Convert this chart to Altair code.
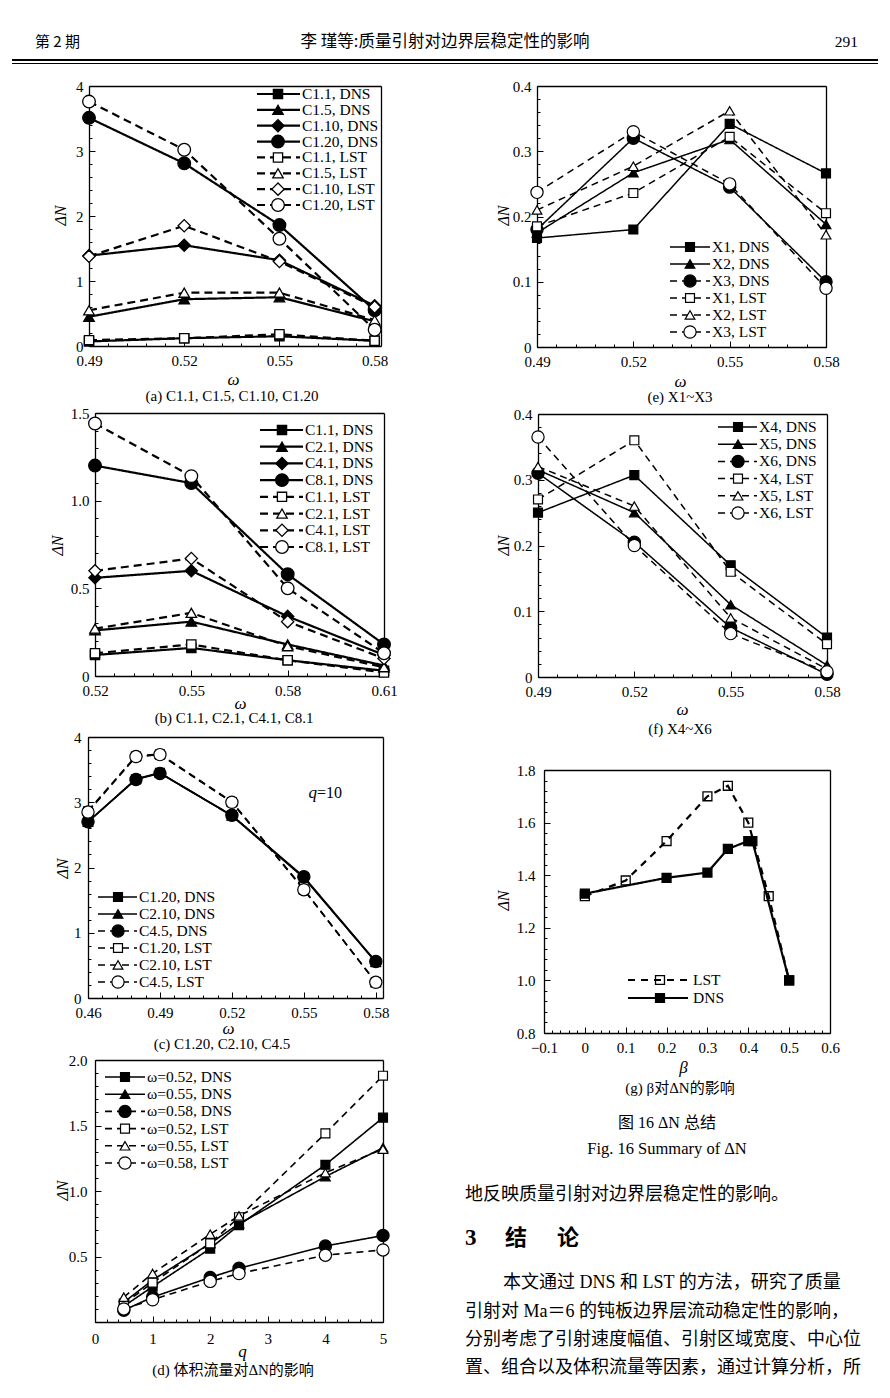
import numpy as np
import pandas as pd
import altair as alt

W, H = 874, 1382
P = 8
SERIF = "Liberation Serif"
CJK = "Noto Sans CJK SC"
MIX = "Liberation Serif, Noto Sans CJK SC"

# ---------------- data ----------------
# (a)
A_OMEGA = [0.49, 0.52, 0.55, 0.58]
A_C1_1_DNS = [0.07, 0.12, 0.15, 0.08]
A_C1_5_DNS = [0.45, 0.72, 0.75, 0.38]
A_C1_10_DNS = [1.39, 1.55, 1.32, 0.62]
A_C1_20_DNS = [3.51, 2.81, 1.86, 0.55]
A_C1_1_LST = [0.09, 0.12, 0.18, 0.08]
A_C1_5_LST = [0.55, 0.82, 0.82, 0.40]
A_C1_10_LST = [1.38, 1.85, 1.30, 0.60]
A_C1_20_LST = [3.76, 3.02, 1.65, 0.25]
# (b)
B_OMEGA = [0.52, 0.55, 0.58, 0.61]
B_C1_1_DNS = [0.12, 0.16, 0.09, 0.03]
B_C2_1_DNS = [0.26, 0.31, 0.18, 0.06]
B_C4_1_DNS = [0.56, 0.60, 0.34, 0.12]
B_C8_1_DNS = [1.20, 1.10, 0.58, 0.18]
B_C1_1_LST = [0.13, 0.18, 0.09, 0.02]
B_C2_1_LST = [0.27, 0.36, 0.17, 0.05]
B_C4_1_LST = [0.60, 0.67, 0.31, 0.10]
B_C8_1_LST = [1.44, 1.14, 0.50, 0.13]
# (c)
C_OMEGA = [0.46, 0.48, 0.49, 0.52, 0.55, 0.58]
C_C1_20_DNS = [2.70, 3.35, 3.45, 2.80, 1.85, 0.55]
C_C2_10_DNS = [2.70, 3.36, 3.45, 2.79, 1.84, 0.55]
C_C4_5_DNS = [2.70, 3.35, 3.44, 2.80, 1.86, 0.56]
C_C1_20_LST = [2.86, 3.70, 3.73, 3.00, 1.66, 0.24]
C_C2_10_LST = [2.87, 3.71, 3.74, 3.01, 1.67, 0.24]
C_C4_5_LST = [2.85, 3.70, 3.73, 3.00, 1.66, 0.24]
# (d)
D_Q = [0.5, 1, 2, 2.5, 4, 5]
D_W052_DNS = [0.12, 0.27, 0.56, 0.74, 1.20, 1.56]
D_W055_DNS = [0.15, 0.32, 0.60, 0.75, 1.11, 1.33]
D_W058_DNS = [0.09, 0.19, 0.34, 0.41, 0.58, 0.66]
D_W052_LST = [0.14, 0.30, 0.60, 0.80, 1.44, 1.88]
D_W055_LST = [0.19, 0.37, 0.67, 0.81, 1.14, 1.32]
D_W058_LST = [0.10, 0.17, 0.31, 0.37, 0.51, 0.55]
# (e)
E_OMEGA = [0.49, 0.52, 0.55, 0.58]
E_X1_DNS = [0.167, 0.180, 0.342, 0.266]
E_X2_DNS = [0.175, 0.267, 0.318, 0.188]
E_X3_DNS = [0.180, 0.320, 0.245, 0.100]
E_X1_LST = [0.185, 0.236, 0.322, 0.205]
E_X2_LST = [0.210, 0.277, 0.362, 0.172]
E_X3_LST = [0.237, 0.330, 0.250, 0.090]
# (f)
F_OMEGA = [0.49, 0.52, 0.55, 0.58]
F_X4_DNS = [0.250, 0.307, 0.170, 0.060]
F_X5_DNS = [0.315, 0.250, 0.110, 0.018]
F_X6_DNS = [0.310, 0.205, 0.075, 0.004]
F_X4_LST = [0.270, 0.360, 0.160, 0.050]
F_X5_LST = [0.320, 0.260, 0.090, 0.012]
F_X6_LST = [0.365, 0.200, 0.066, 0.008]
# (g)
G_BETA_LST = [0, 0.1, 0.2, 0.3, 0.35, 0.4, 0.45, 0.5]
G_LST = [1.32, 1.38, 1.53, 1.70, 1.74, 1.60, 1.32, 1.00]
G_BETA_DNS = [0, 0.2, 0.3, 0.35, 0.4, 0.41, 0.5]
G_DNS = [1.33, 1.39, 1.41, 1.50, 1.53, 1.53, 1.00]

# ---------------- texts ----------------
HEADER_LEFT = "第 2 期"
HEADER_MID = "李  瑾等:质量引射对边界层稳定性的影响"
HEADER_RIGHT = "291"
CAPTIONS = {
    "a": "(a) C1.1, C1.5, C1.10, C1.20",
    "b": "(b) C1.1, C2.1, C4.1, C8.1",
    "c": "(c) C1.20, C2.10, C4.5",
    "d": "(d) 体积流量对ΔN的影响",
    "e": "(e) X1~X3",
    "f": "(f) X4~X6",
    "g": "(g) β对ΔN的影响",
}
FIG_CN = "图 16   ΔN 总结"
FIG_EN = "Fig. 16   Summary of ΔN"
BODY_0 = "地反映质量引射对边界层稳定性的影响。"
SECTION = ["3", "结", "论"]
BODY_LINES = [
    "本文通过 DNS 和 LST 的方法，研究了质量",
    "引射对 Ma＝6 的钝板边界层流动稳定性的影响，",
    "分别考虑了引射速度幅值、引射区域宽度、中心位",
    "置、组合以及体积流量等因素，通过计算分析，所",
]

SHAPES = {"sq": "square", "tri": "triangle-up", "dia": "diamond", "cir": "circle"}


def ticks(a, b, step):
    n = int(round((b - a) / step))
    return [round(a + i * step, 6) for i in range(n + 1)]


def ax(**kw):
    base = dict(grid=False, labelFont=SERIF, labelFontSize=15, labelColor="black",
                domainColor="black", tickColor="black", titleColor="black",
                labelOverlap=False, labelFlush=False)
    base.update(kw)
    return alt.Axis(**base)


def series_df(entries, sizes, openfill):
    rows = []
    for label, method, marker, filled, xs, ys in entries:
        for x, y in zip(xs, ys):
            rows.append({"series": label, "method": method, "shp": SHAPES[marker],
                         "fill": "black" if filled else openfill,
                         "size": sizes[marker], "x": x, "y": y,
                         "dash": "solid" if method == "DNS" else "dashed"})
    return pd.DataFrame(rows)


def build_panel(g, entries, legend):
    x0, x1 = g["x0p"] - P, g["x1p"] - P
    yb, yt = g["ybp"] - P, g["ytp"] - P
    xs = alt.Scale(domain=g["xdom"], range=[x0, x1], nice=False, zero=False)
    ys = alt.Scale(domain=g["ydom"], range=[yb, yt], nice=False, zero=False)
    df = series_df(entries, g["sizes"], g.get("openfill", "white"))
    dash_scale = alt.Scale(domain=["solid", "dashed"], range=[[1, 0], g["dash"]])
    base = alt.Chart(df)
    layers = []
    # lines + labelled axes
    layers.append(base.mark_line(color="black", strokeWidth=g["lw"]).encode(
        x=alt.X("x:Q", scale=xs, axis=ax(
            orient="bottom", offset=yb - H, values=g["xticks"], labelExpr=g["xfmt"],
            ticks=False, tickSize=0, domain=True, domainWidth=1.3,
            labelPadding=g["xlpad"],
            title=g["xtitle"], titleFont=SERIF, titleFontSize=17, titleFontStyle="italic",
            titleFontWeight="normal", titleX=g["xt"][0] - P, titleY=g["xt"][1] - g["ybp"],
            titleAlign="center", titleBaseline="middle", titleAngle=0)),
        y=alt.Y("y:Q", scale=ys, axis=ax(
            orient="left", offset=-x0, values=g["yticks"], labelExpr=g["yfmt"],
            ticks=False, tickSize=0, domain=True, domainWidth=1.3,
            labelPadding=g["ylpad"],
            title="ΔN", titleFont=SERIF, titleFontSize=16, titleFontStyle="italic",
            titleFontWeight="normal", titleX=g["yt"][0] - g["x0p"], titleY=g["yt"][1] - P,
            titleAlign="center", titleBaseline="middle", titleAngle=270)),
        detail="series:N",
        strokeDash=alt.StrokeDash("dash:N", scale=dash_scale, legend=None),
    ))
    # markers
    layers.append(base.mark_point(filled=True, opacity=1, stroke="black",
                                  strokeWidth=g["pw"]).encode(
        x=alt.X("x:Q", scale=xs, axis=None),
        y=alt.Y("y:Q", scale=ys, axis=None),
        shape=alt.Shape("shp:N", scale=None),
        fill=alt.Fill("fill:N", scale=None),
        size=alt.Size("size:Q", scale=None),
    ))
    ghost = base.mark_point(opacity=0, size=1)
    # inward major ticks
    layers.append(ghost.encode(
        x=alt.X("x:Q", scale=xs, axis=ax(orient="top", offset=-yb, values=g["xticks"],
                                         labels=False, domain=False, ticks=True,
                                         tickSize=6, tickWidth=1, title=None)),
        y=alt.Y("y:Q", scale=ys, axis=ax(orient="right", offset=x0 - W, values=g["yticks"],
                                         labels=False, domain=False, ticks=True,
                                         tickSize=6, tickWidth=1, title=None)),
    ))
    # inward minor ticks
    layers.append(ghost.encode(
        x=alt.X("x:Q", scale=xs, axis=ax(orient="top", offset=-yb, values=g["xminor"],
                                         labels=False, domain=False, ticks=True,
                                         tickSize=3, tickWidth=1, title=None)),
        y=alt.Y("y:Q", scale=ys, axis=ax(orient="right", offset=x0 - W, values=g["yminor"],
                                         labels=False, domain=False, ticks=True,
                                         tickSize=3, tickWidth=1, title=None)),
    ))
    # frame top / right
    layers.append(ghost.encode(
        x=alt.X("x:Q", scale=xs, axis=ax(orient="top", offset=-yt, labels=False,
                                         ticks=False, domain=True, domainWidth=1.3,
                                         title=None)),
        y=alt.Y("y:Q", scale=ys, axis=ax(orient="right", offset=x1 - W, labels=False,
                                         ticks=False, domain=True, domainWidth=1.3,
                                         title=None)),
    ))
    # legend
    lrows = []
    for label, marker, filled, dash in legend:
        lrows.append({"label": label, "shp": SHAPES[marker],
                      "fill": "black" if filled else g.get("openfill", "white"),
                      "size": g["sizes"][marker], "dash": dash})
    ldf = pd.DataFrame(lrows)
    labels = [r["label"] for r in lrows]
    L = g["leg"]
    lys = alt.Scale(type="point", domain=labels, range=[L["y0"] - P, L["y1"] - P],
                    padding=0)
    lbase = alt.Chart(ldf)
    ly = alt.Y("label:N", scale=lys, axis=None)
    layers.append(lbase.mark_rule(color="black", strokeWidth=g["lw"]).encode(
        x=alt.value(L["lx0"] - P), x2=alt.value(L["lx1"] - P), y=ly,
        strokeDash=alt.StrokeDash("dash:N", scale=dash_scale, legend=None)))
    layers.append(lbase.mark_point(filled=True, opacity=1, stroke="black",
                                   strokeWidth=g["pw"]).encode(
        x=alt.value(L["mx"] - P), y=ly,
        shape=alt.Shape("shp:N", scale=None), fill=alt.Fill("fill:N", scale=None),
        size=alt.Size("size:Q", scale=None)))
    layers.append(lbase.mark_text(align="left", baseline="middle", font=SERIF,
                                  fontSize=15.5, color="black").encode(
        x=alt.value(L["tx"] - P), y=ly, text="label:N"))
    return layers


def text(txt, x, y, font=SERIF, size=15, align="center", style="normal",
         weight="normal", angle=0):
    return alt.Chart(pd.DataFrame({"t": [txt]})).mark_text(
        font=font, fontSize=size, align=align, baseline="middle", fontStyle=style,
        fontWeight=weight, color="black", angle=angle).encode(
        text="t:N", x=alt.value(x - P), y=alt.value(y - P))


def rule(x0, x1, y, w):
    return alt.Chart(pd.DataFrame({"k": [0]})).mark_rule(color="black", strokeWidth=w).encode(
        x=alt.value(x0 - P), x2=alt.value(x1 - P), y=alt.value(y - P))


FMT2 = "format(datum.value, '.2f')"
FMT1 = "datum.value == 0 ? '0' : format(datum.value, '.1f')"
FMTD = "format(datum.value, 'd')"

SZ_BIG = {"sq": 85, "tri": 110, "dia": 150, "cir": 160}
SZ_MID = {"sq": 80, "tri": 95, "dia": 120, "cir": 150}

panels = []

# (a)
ga = dict(x0p=89, x1p=381, xdom=[0.49, 0.582], ybp=346, ytp=86, ydom=[0, 4],
          xticks=A_OMEGA, xminor=ticks(0.49, 0.58, 0.006), yticks=[0, 1, 2, 3, 4],
          yminor=ticks(0, 4, 0.2), xfmt=FMT2, yfmt=FMTD, xlpad=7, ylpad=6,
          xtitle="ω", xt=(233, 379), yt=(60, 215), lw=2.2, pw=1.3, dash=[8, 5],
          sizes=SZ_BIG,
          leg=dict(y0=94, y1=205, lx0=257, lx1=300, mx=278, tx=302))
ea = [("C1.1, DNS", "DNS", "sq", True, A_OMEGA, A_C1_1_DNS),
      ("C1.5, DNS", "DNS", "tri", True, A_OMEGA, A_C1_5_DNS),
      ("C1.10, DNS", "DNS", "dia", True, A_OMEGA, A_C1_10_DNS),
      ("C1.20, DNS", "DNS", "cir", True, A_OMEGA, A_C1_20_DNS),
      ("C1.1, LST", "LST", "sq", False, A_OMEGA, A_C1_1_LST),
      ("C1.5, LST", "LST", "tri", False, A_OMEGA, A_C1_5_LST),
      ("C1.10, LST", "LST", "dia", False, A_OMEGA, A_C1_10_LST),
      ("C1.20, LST", "LST", "cir", False, A_OMEGA, A_C1_20_LST)]
la = [(e[0], e[2], e[3], "solid" if e[1] == "DNS" else "dashed") for e in ea]
panels += build_panel(ga, ea, la)

# (b)
gb = dict(x0p=95, x1p=384, xdom=[0.52, 0.61], ybp=676, ytp=413, ydom=[0, 1.5],
          xticks=B_OMEGA, xminor=ticks(0.52, 0.61, 0.006), yticks=[0, 0.5, 1.0, 1.5],
          yminor=ticks(0, 1.5, 0.1), xfmt=FMT2, yfmt=FMT1, xlpad=7, ylpad=6,
          xtitle="ω", xt=(240, 703), yt=(57, 545), lw=2.2, pw=1.3, dash=[8, 5],
          sizes=SZ_BIG,
          leg=dict(y0=430, y1=547, lx0=260, lx1=303, mx=282, tx=305))
eb = [("C1.1, DNS", "DNS", "sq", True, B_OMEGA, B_C1_1_DNS),
      ("C2.1, DNS", "DNS", "tri", True, B_OMEGA, B_C2_1_DNS),
      ("C4.1, DNS", "DNS", "dia", True, B_OMEGA, B_C4_1_DNS),
      ("C8.1, DNS", "DNS", "cir", True, B_OMEGA, B_C8_1_DNS),
      ("C1.1, LST", "LST", "sq", False, B_OMEGA, B_C1_1_LST),
      ("C2.1, LST", "LST", "tri", False, B_OMEGA, B_C2_1_LST),
      ("C4.1, LST", "LST", "dia", False, B_OMEGA, B_C4_1_LST),
      ("C8.1, LST", "LST", "cir", False, B_OMEGA, B_C8_1_LST)]
lb = [(e[0], e[2], e[3], "solid" if e[1] == "DNS" else "dashed") for e in eb]
panels += build_panel(gb, eb, lb)

# (c)
gc = dict(x0p=88, x1p=383, xdom=[0.46, 0.583], ybp=998, ytp=737, ydom=[0, 4],
          xticks=[0.46, 0.49, 0.52, 0.55, 0.58], xminor=ticks(0.46, 0.58, 0.006),
          yticks=[0, 1, 2, 3, 4], yminor=ticks(0, 4, 0.2), xfmt=FMT2, yfmt=FMTD,
          xlpad=7, ylpad=7, xtitle="ω", xt=(228, 1028), yt=(62, 868), lw=1.5, pw=1.2,
          dash=[7, 5], sizes=SZ_MID,
          leg=dict(y0=897, y1=982, lx0=98, lx1=137, mx=118, tx=139))
ec = [("C1.20, DNS", "DNS", "sq", True, C_OMEGA, C_C1_20_DNS),
      ("C2.10, DNS", "DNS", "tri", True, C_OMEGA, C_C2_10_DNS),
      ("C4.5, DNS", "DNS", "cir", True, C_OMEGA, C_C4_5_DNS),
      ("C1.20, LST", "LST", "sq", False, C_OMEGA, C_C1_20_LST),
      ("C2.10, LST", "LST", "tri", False, C_OMEGA, C_C2_10_LST),
      ("C4.5, LST", "LST", "cir", False, C_OMEGA, C_C4_5_LST)]
lc = [("C1.20, DNS", "sq", True, "solid"), ("C2.10, DNS", "tri", True, "solid"),
      ("C4.5, DNS", "cir", True, "dashed"), ("C1.20, LST", "sq", False, "dashed"),
      ("C2.10, LST", "tri", False, "dashed"), ("C4.5, LST", "cir", False, "dashed")]
panels += build_panel(gc, ec, lc)

# (d)
gd = dict(x0p=95, x1p=383, xdom=[0, 5], ybp=1322, ytp=1060, ydom=[0, 2],
          xticks=[0, 1, 2, 3, 4, 5], xminor=ticks(0, 5, 0.2),
          yticks=[0.5, 1.0, 1.5, 2.0], yminor=ticks(0, 2, 0.1), xfmt=FMTD, yfmt=FMT1,
          xlpad=9, ylpad=8, xtitle="q", xt=(242, 1351), yt=(62, 1190), lw=1.6, pw=1.2,
          dash=[7, 5], sizes=SZ_MID,
          leg=dict(y0=1077, y1=1163, lx0=105, lx1=145, mx=125, tx=147))
ed = [("ω=0.52, DNS", "DNS", "sq", True, D_Q, D_W052_DNS),
      ("ω=0.55, DNS", "DNS", "tri", True, D_Q, D_W055_DNS),
      ("ω=0.58, DNS", "DNS", "cir", True, D_Q, D_W058_DNS),
      ("ω=0.52, LST", "LST", "sq", False, D_Q, D_W052_LST),
      ("ω=0.55, LST", "LST", "tri", False, D_Q, D_W055_LST),
      ("ω=0.58, LST", "LST", "cir", False, D_Q, D_W058_LST)]
ld = [("ω=0.52, DNS", "sq", True, "solid"), ("ω=0.55, DNS", "tri", True, "solid"),
      ("ω=0.58, DNS", "cir", True, "dashed"), ("ω=0.52, LST", "sq", False, "dashed"),
      ("ω=0.55, LST", "tri", False, "dashed"), ("ω=0.58, LST", "cir", False, "dashed")]
panels += build_panel(gd, ed, ld)

# (e)
ge = dict(x0p=537, x1p=826, xdom=[0.49, 0.58], ybp=347, ytp=86, ydom=[0, 0.4],
          xticks=E_OMEGA, xminor=ticks(0.49, 0.58, 0.006),
          yticks=[0, 0.1, 0.2, 0.3, 0.4], yminor=ticks(0, 0.4, 0.02), xfmt=FMT2, yfmt=FMT1,
          xlpad=7, ylpad=6, xtitle="ω", xt=(680, 381), yt=(503, 215), lw=1.5, pw=1.2,
          dash=[7, 5], sizes=SZ_MID,
          leg=dict(y0=247, y1=332, lx0=670, lx1=710, mx=690, tx=712))
ee = [("X1, DNS", "DNS", "sq", True, E_OMEGA, E_X1_DNS),
      ("X2, DNS", "DNS", "tri", True, E_OMEGA, E_X2_DNS),
      ("X3, DNS", "DNS", "cir", True, E_OMEGA, E_X3_DNS),
      ("X1, LST", "LST", "sq", False, E_OMEGA, E_X1_LST),
      ("X2, LST", "LST", "tri", False, E_OMEGA, E_X2_LST),
      ("X3, LST", "LST", "cir", False, E_OMEGA, E_X3_LST)]
le = [("X1, DNS", "sq", True, "solid"), ("X2, DNS", "tri", True, "solid"),
      ("X3, DNS", "cir", True, "dashed"), ("X1, LST", "sq", False, "dashed"),
      ("X2, LST", "tri", False, "dashed"), ("X3, LST", "cir", False, "dashed")]
panels += build_panel(ge, ee, le)

# (f)
gf = dict(x0p=538, x1p=827, xdom=[0.49, 0.58], ybp=677, ytp=414, ydom=[0, 0.4],
          xticks=F_OMEGA, xminor=ticks(0.49, 0.58, 0.006),
          yticks=[0, 0.1, 0.2, 0.3, 0.4], yminor=ticks(0, 0.4, 0.02), xfmt=FMT2, yfmt=FMT1,
          xlpad=7, ylpad=6, xtitle="ω", xt=(682, 709), yt=(503, 545), lw=1.5, pw=1.2,
          dash=[7, 5], sizes=SZ_MID,
          leg=dict(y0=427, y1=513, lx0=718, lx1=757, mx=738, tx=759))
ef = [("X4, DNS", "DNS", "sq", True, F_OMEGA, F_X4_DNS),
      ("X5, DNS", "DNS", "tri", True, F_OMEGA, F_X5_DNS),
      ("X6, DNS", "DNS", "cir", True, F_OMEGA, F_X6_DNS),
      ("X4, LST", "LST", "sq", False, F_OMEGA, F_X4_LST),
      ("X5, LST", "LST", "tri", False, F_OMEGA, F_X5_LST),
      ("X6, LST", "LST", "cir", False, F_OMEGA, F_X6_LST)]
lf = [("X4, DNS", "sq", True, "solid"), ("X5, DNS", "tri", True, "solid"),
      ("X6, DNS", "cir", True, "dashed"), ("X4, LST", "sq", False, "dashed"),
      ("X5, LST", "tri", False, "dashed"), ("X6, LST", "cir", False, "dashed")]
panels += build_panel(gf, ef, lf)

# (g)
gg = dict(x0p=544, x1p=830, xdom=[-0.1, 0.6], ybp=1033, ytp=770, ydom=[0.8, 1.8],
          xticks=ticks(-0.1, 0.6, 0.1), xminor=ticks(-0.1, 0.6, 0.02),
          yticks=ticks(0.8, 1.8, 0.2), yminor=ticks(0.8, 1.8, 0.04), xfmt=FMT1,
          yfmt="format(datum.value, '.1f')", xlpad=7, ylpad=9, xtitle="β",
          xt=(683, 1067), yt=(503, 900), lw=2.2, pw=1.3, dash=[7, 6],
          sizes={"sq": 80, "tri": 95, "dia": 120, "cir": 150}, openfill="transparent",
          leg=dict(y0=980, y1=998, lx0=628, lx1=688, mx=660, tx=693))
eg = [("LST", "LST", "sq", False, G_BETA_LST, G_LST),
      ("DNS", "DNS", "sq", True, G_BETA_DNS, G_DNS)]
lg = [("LST", "sq", False, "dashed"), ("DNS", "sq", True, "solid")]
panels += build_panel(gg, eg, lg)

# ---------------- texts ----------------
texts = [
    text(HEADER_LEFT, 35, 42, font=CJK, size=15, align="left"),
    text(HEADER_MID, 445, 42, font=CJK, size=16.5),
    text(HEADER_RIGHT, 858, 42, font=SERIF, size=15.5, align="right"),
    rule(12, 878, 60, 2),
    rule(12, 878, 63.5, 1),
    text(CAPTIONS["a"], 232, 396, font=SERIF),
    text(CAPTIONS["b"], 234, 718, font=SERIF),
    text(CAPTIONS["c"], 222, 1044, font=SERIF),
    text(CAPTIONS["d"], 233, 1370, font=MIX),
    text(CAPTIONS["e"], 680, 397, font=SERIF),
    text(CAPTIONS["f"], 680, 729, font=SERIF),
    text(CAPTIONS["g"], 680, 1088, font=MIX),
    text("q", 317, 793, font=SERIF, size=17, align="right", style="italic"),
    text("=10", 317, 793, font=SERIF, size=16, align="left"),
    text(FIG_CN, 667, 1123, font=MIX, size=16),
    text(FIG_EN, 667, 1149, font=SERIF, size=16.5),
    text(BODY_0, 465, 1195, font=CJK, size=18, align="left"),
    text(SECTION[0], 465, 1238, font=SERIF, size=23, align="left", weight="bold"),
    text(SECTION[1], 505, 1238, font=CJK, size=22, align="left", weight="bold"),
    text(SECTION[2], 557, 1238, font=CJK, size=22, align="left", weight="bold"),
    text(BODY_LINES[0], 503, 1283, font=MIX, size=18, align="left"),
    text(BODY_LINES[1], 465, 1312, font=MIX, size=18, align="left"),
    text(BODY_LINES[2], 465, 1340, font=MIX, size=18, align="left"),
    text(BODY_LINES[3], 465, 1368, font=MIX, size=18, align="left"),
]

chart = alt.layer(*(panels + texts)).resolve_scale(
    x="independent", y="independent", shape="independent", fill="independent",
    size="independent", strokeDash="independent"
).properties(width=W, height=H, padding=0).configure_view(stroke=None)

chart.save("out.html", embed_options={"renderer": "svg", "actions": False})
